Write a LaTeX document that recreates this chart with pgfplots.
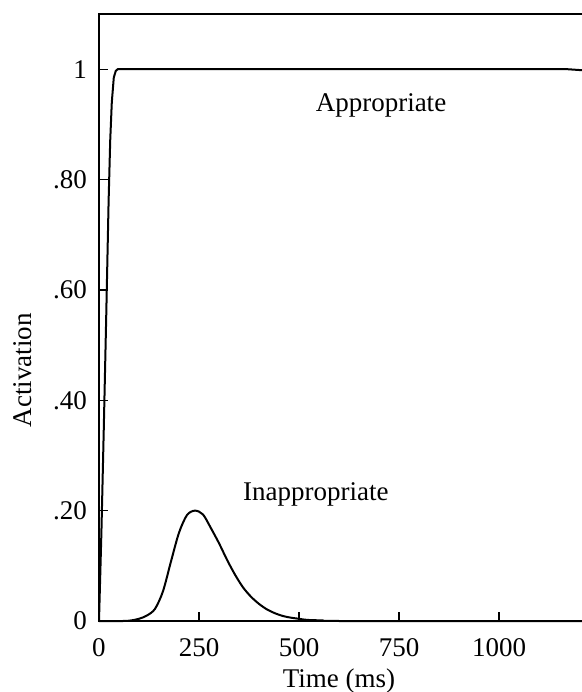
\documentclass[border=0pt]{standalone}
\usepackage{fontspec}
\setmainfont{Liberation Serif}
\usepackage{pgfplots}
\pgfplotsset{compat=1.18}
\usetikzlibrary{calc}
\begin{document}
\fontsize{27}{32}\selectfont
\begin{tikzpicture}
\begin{axis}[
  scale only axis,
  width=484pt, height=607pt,
  xmin=0, xmax=1210, ymin=0, ymax=1.1,
  axis line style={line width=1.5pt},
  tick pos=left,
  tick align=inside,
  major tick length=9pt,
  tick style={line width=1.2pt, black},
  xtick={0,250,500,750,1000},
  xticklabels={0,250,500,750,1000},
  ytick={0,0.2,0.4,0.6,0.8,1},
  yticklabels={0,.20,.40,.60,.80,1},
  x tick label style={inner sep=0pt, anchor=north, yshift=-17pt},
  y tick label style={inner sep=0pt, anchor=east, xshift=-12pt},
  xlabel={Time (ms)},
  ylabel={Activation},
  xlabel style={at={(axis description cs:0.496,0)}, anchor=base, yshift=-66pt, inner sep=0pt},
  ylabel style={at={([xshift=-67pt]axis description cs:0,0.413)}, anchor=base, inner sep=0pt},
  clip=false,
]
\addplot[black, line width=2pt] coordinates {
(0,0) (6,0.16) (12,0.35) (18,0.55) (24,0.76) (28,0.87) (32,0.94) (37,0.985) (42,0.997) (47,1.0)
(1170,1.0) (1210,0.998)
};
\addplot[black, line width=2pt, smooth, tension=0.5] coordinates {
(0,0) (60,0) (80,0.001) (100,0.004) (120,0.010) (140,0.022) (160,0.054) (180,0.108)
(200,0.160) (220,0.192) (240,0.200) (260,0.193) (280,0.168) (300,0.141) (320,0.111)
(340,0.084) (360,0.061) (380,0.044) (400,0.031) (420,0.021) (440,0.014) (460,0.009)
(480,0.006) (500,0.004) (520,0.002) (560,0.001) (600,0) (1210,0)
};
\node[anchor=base, inner sep=0pt] at (axis cs:705,0.924) {Appropriate};
\node[anchor=base, inner sep=0pt] at (axis cs:542,0.219) {Inappropriate};
\end{axis}
\pgfresetboundingbox
\path ($(current axis.south west)+(-99pt,-71pt)$) rectangle ($(current axis.north east)+(-2pt,14pt)$);
\end{tikzpicture}
\end{document}
